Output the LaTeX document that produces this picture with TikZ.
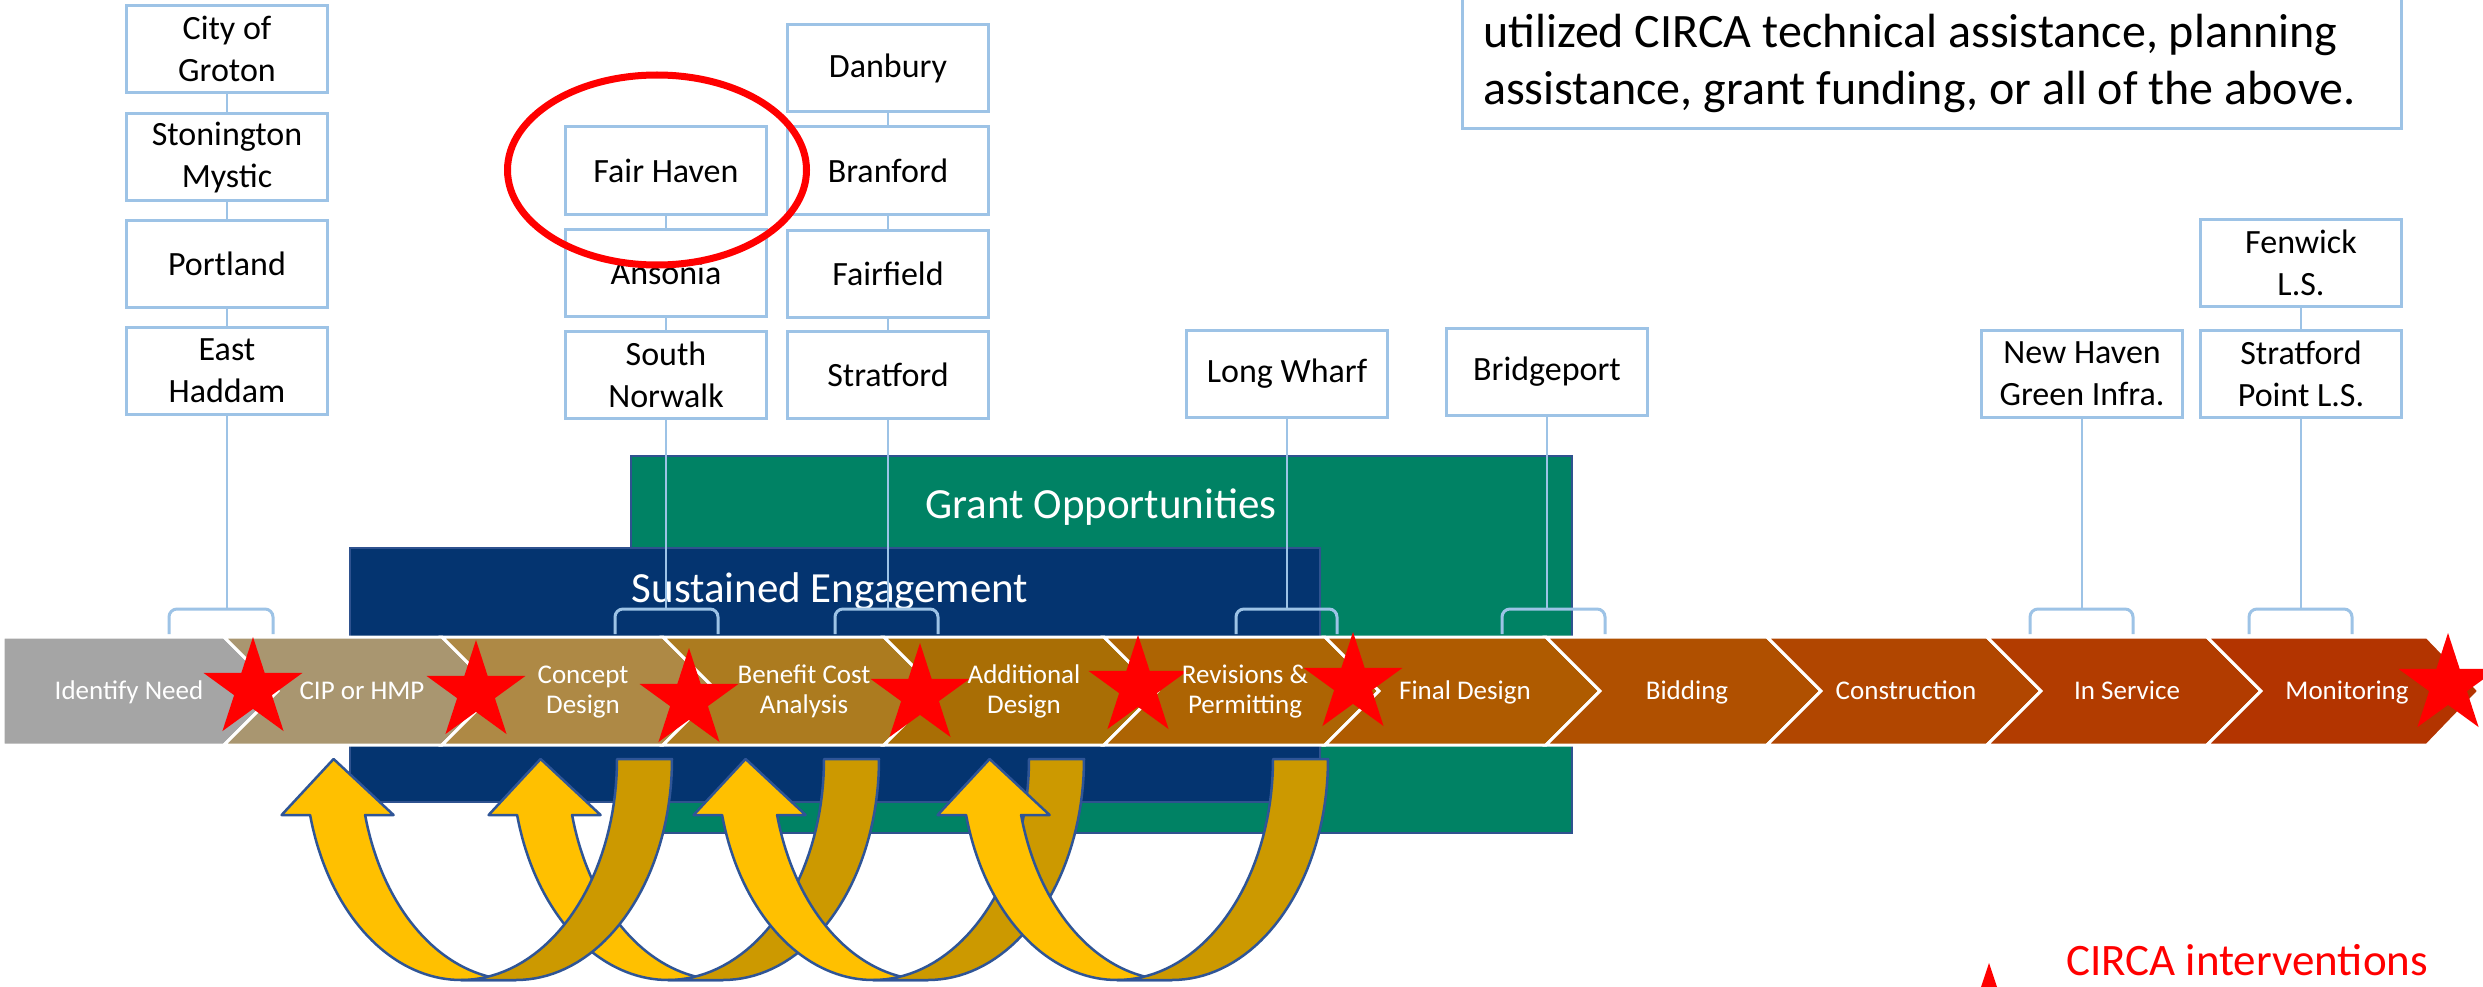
\documentclass[tikz,border=0pt]{standalone}
\usepackage{fontspec}
\setmainfont{Carlito}
\usetikzlibrary{shapes.geometric}
\definecolor{boxblue}{RGB}{157,195,230}
\definecolor{navybar}{RGB}{4,52,112}
\definecolor{grantgreen}{RGB}{0,130,100}
\definecolor{barline}{RGB}{47,82,143}
\definecolor{arrowyellow}{RGB}{255,192,0}
\definecolor{arrowgold}{RGB}{204,153,0}
\definecolor{arrowline}{RGB}{47,85,151}
\definecolor{chA}{RGB}{165,165,165}
\definecolor{chB}{RGB}{169,150,112}
\definecolor{chC}{RGB}{174,137,69}
\definecolor{chD}{RGB}{172,123,31}
\definecolor{chE}{RGB}{169,110,5}
\definecolor{chF}{RGB}{173,100,3}
\definecolor{chG}{RGB}{175,91,0}
\definecolor{chH}{RGB}{176,80,0}
\definecolor{chI}{RGB}{177,70,0}
\definecolor{chJ}{RGB}{178,60,0}
\definecolor{chK}{RGB}{179,52,0}
\definecolor{circared}{RGB}{255,0,0}
\newcommand\uturnarrow[1]{%
  \filldraw[yarm] plot[domain=165.32:90,samples=40,variable=\t] ({#1+156*cos(\t)},{759+221*sin(\t)})
    -- plot[domain=90:165.32,samples=40,variable=\t] ({#1+55+156*cos(\t)},{759+221*sin(\t)})
    -- ({#1-67.4},815) -- ({#1-127.4},759) -- ({#1-179.4},815) -- cycle;
  \filldraw[garm] plot[domain=0:90,samples=40,variable=\t] ({#1+156*cos(\t)},{759+221*sin(\t)})
    -- plot[domain=90:0,samples=40,variable=\t] ({#1+55+156*cos(\t)},{759+221*sin(\t)})
    -- cycle;}
\tikzset{
  citybox/.style={draw=boxblue, line width=3pt, fill=white, minimum width=201pt, minimum height=87pt,
    inner sep=0pt, align=center, font={\fontsize{34}{42}\selectfont}},
  link/.style={draw=boxblue, line width=2pt},
  bracket/.style={draw=boxblue, line width=3pt, rounded corners=8pt},
  chev/.style={draw=white, line width=3pt, line join=miter},
  chevtext/.style={text=white, anchor=base, inner sep=0pt, font={\fontsize{27}{30}\selectfont}},
  bartext/.style={text=white, anchor=base, inner sep=0pt, font={\fontsize{43}{50}\selectfont}},
  notetext/.style={text=black, anchor=base west, inner sep=0pt, font={\fontsize{48}{57}\selectfont}},
  redstar/.style={star, star points=5, star point ratio=2.618, fill=circared, minimum size=104pt,
    inner sep=0pt, outer sep=0pt},
  yarm/.style={fill=arrowyellow, draw=arrowline, line width=2.5pt, line join=round},
  garm/.style={fill=arrowgold, draw=arrowline, line width=2.5pt, line join=round},
  bar/.style={draw=barline, line width=2pt}
}
\begin{document}
\begin{tikzpicture}[x=1pt, y=-1pt]
\useasboundingbox (0,0) rectangle (2483,987);
\clip (0,0) rectangle (2483,987);
\fill[white] (0,0) rectangle (2483,987);

% bars
\filldraw[bar, fill=grantgreen] (631,456) rectangle (1572,833);
\filldraw[bar, fill=navybar] (350,548) rectangle (1320,802);
\node[bartext] (grant) at (1101,518) {Grant Opportunities};
\node[bartext] (sustain) at (830,602) {Sustained Engagement};

% boxes
\node[citybox] (groton) at (227,49) {City of\\Groton};
\node[citybox] (stonington) at (227,157.5) {Stonington\\Mystic};
\node[citybox] (portland) at (227,263.5) {Portland};
\node[citybox] (haddam) at (227,370.5) {East\\Haddam};
\node[citybox] (fairhaven) at (666,170.5) {Fair Haven};
\node[citybox] (ansonia) at (666,272.5) {Ansonia};
\node[citybox] (snorwalk) at (666,374.5) {South\\Norwalk};
\node[citybox] (danbury) at (888,68.5) {Danbury};
\node[citybox] (branford) at (888,170.5) {Branford};
\node[citybox] (fairfield) at (888,273.5) {Fairfield};
\node[citybox] (stratford) at (888,374.5) {Stratford};
\node[citybox] (longwharf) at (1287,374) {Long Wharf};
\node[citybox] (bridgeport) at (1547,372) {Bridgeport};
\node[citybox] (newhaven) at (2082,374) {New Haven\\Green Infra.};
\node[citybox] (fenwick) at (2301,263) {Fenwick\\L.S.};
\node[citybox] (spoint) at (2301,374) {Stratford\\Point L.S.};

% links between stacked boxes
\draw[link] (groton.south) -- (stonington.north);
\draw[link] (stonington.south) -- (portland.north);
\draw[link] (portland.south) -- (haddam.north);
\draw[link] (fairhaven.south) -- (ansonia.north);
\draw[link] (ansonia.south) -- (snorwalk.north);
\draw[link] (danbury.south) -- (branford.north);
\draw[link] (branford.south) -- (fairfield.north);
\draw[link] (fairfield.south) -- (stratford.north);
\draw[link] (fenwick.south) -- (spoint.north);

% stems and brackets
\coordinate (b1) at (227,609);  \coordinate (bl1) at (169,634);  \coordinate (br1) at (273,634);
\coordinate (b2) at (666,609);  \coordinate (bl2) at (615,634);  \coordinate (br2) at (718,634);
\coordinate (b3) at (888,609);  \coordinate (bl3) at (835,634);  \coordinate (br3) at (938,634);
\coordinate (b4) at (1287,609); \coordinate (bl4) at (1236,634); \coordinate (br4) at (1337,634);
\coordinate (b5) at (1547,609); \coordinate (bl5) at (1502,634); \coordinate (br5) at (1605,634);
\coordinate (b6) at (2082,609); \coordinate (bl6) at (2030,634); \coordinate (br6) at (2133,634);
\coordinate (b7) at (2301,609); \coordinate (bl7) at (2249,634); \coordinate (br7) at (2352,634);
\draw[link] (haddam.south) -- (b1);
\draw[link] (snorwalk.south) -- (b2);
\draw[link] (stratford.south) -- (b3);
\draw[link] (longwharf.south) -- (b4);
\draw[link] (bridgeport.south) -- (b5);
\draw[link] (newhaven.south) -- (b6);
\draw[link] (spoint.south) -- (b7);
\foreach \i in {1,...,7} { \draw[bracket] (bl\i) |- (b\i) -| (br\i); }

% chevron band
\filldraw[chev, fill=chA] (3,637) -- (224,637) -- (278,691) -- (224,745) -- (3,745) -- cycle;
\filldraw[chev, fill=chB] (224,637) -- (442,637) -- (496,691) -- (442,745) -- (224,745) -- (278,691) -- cycle;
\filldraw[chev, fill=chC] (442,637) -- (663,637) -- (717,691) -- (663,745) -- (442,745) -- (496,691) -- cycle;
\filldraw[chev, fill=chD] (663,637) -- (884,637) -- (938,691) -- (884,745) -- (663,745) -- (717,691) -- cycle;
\filldraw[chev, fill=chE] (884,637) -- (1104,637) -- (1158,691) -- (1104,745) -- (884,745) -- (938,691) -- cycle;
\filldraw[chev, fill=chF] (1104,637) -- (1325,637) -- (1379,691) -- (1325,745) -- (1104,745) -- (1158,691) -- cycle;
\filldraw[chev, fill=chG] (1325,637) -- (1546,637) -- (1600,691) -- (1546,745) -- (1325,745) -- (1379,691) -- cycle;
\filldraw[chev, fill=chH] (1546,637) -- (1767,637) -- (1821,691) -- (1767,745) -- (1546,745) -- (1600,691) -- cycle;
\filldraw[chev, fill=chI] (1767,637) -- (1987,637) -- (2041,691) -- (1987,745) -- (1767,745) -- (1821,691) -- cycle;
\filldraw[chev, fill=chJ] (1987,637) -- (2207,637) -- (2261,691) -- (2207,745) -- (1987,745) -- (2041,691) -- cycle;
\filldraw[chev, fill=chK] (2207,637) -- (2427,637) -- (2479,691) -- (2427,745) -- (2207,745) -- (2261,691) -- cycle;

% stars
\node[redstar] (s1) at (253,689) {};
\node[redstar] (s2) at (476,692) {};
\node[redstar] (s3) at (689,700) {};
\node[redstar] (s4) at (920,695) {};
\node[redstar] (s5) at (1138,687) {};
\node[redstar] (s6) at (1353,684) {};
\node[redstar] (s7) at (2448,685) {};

% chevron labels
\node[chevtext] (c1) at (129,699) {Identify Need};
\node[chevtext] (c2) at (362,699) {CIP or HMP};
\node[chevtext] (c3a) at (583,683) {Concept};
\node[chevtext] (c3b) at (583,713) {Design};
\node[chevtext] (c4a) at (804,683) {Benefit Cost};
\node[chevtext] (c4b) at (804,713) {Analysis};
\node[chevtext] (c5a) at (1024,683) {Additional};
\node[chevtext] (c5b) at (1024,713) {Design};
\node[chevtext] (c6a) at (1245,683) {Revisions \&};
\node[chevtext] (c6b) at (1245,713) {Permitting};
\node[chevtext] (c7) at (1465,699) {Final Design};
\node[chevtext] (c8) at (1687,699) {Bidding};
\node[chevtext] (c9) at (1906,699) {Construction};
\node[chevtext] (c10) at (2127,699) {In Service};
\node[chevtext] (c11) at (2347,699) {Monitoring};

% curved arrows
\uturnarrow{668}
\uturnarrow{461}
\uturnarrow{873}
\uturnarrow{1117}

% note box
\node[draw=boxblue, line width=3pt, fill=white, minimum width=939pt, minimum height=140pt, inner sep=0pt] (note) at (1931.5,59) {};
\node[notetext] (note1) at (1483,48) {utilized CIRCA technical assistance, planning};
\node[notetext] (note2) at (1483,105) {assistance, grant funding, or all of the above.};

% highlight ellipse
\node[draw=circared, line width=7pt, ellipse, minimum width=299pt, minimum height=190pt, inner sep=0pt] (ring) at (657,170) {};

% legend
\fill[circared] (1989,963) -- (1997,987) -- (1981,987) -- cycle;
\node[anchor=base west, inner sep=0pt, text=circared, font={\fontsize{45}{54}\selectfont}] (legend) at (2066,975) {CIRCA interventions};
\end{tikzpicture}
\end{document}
